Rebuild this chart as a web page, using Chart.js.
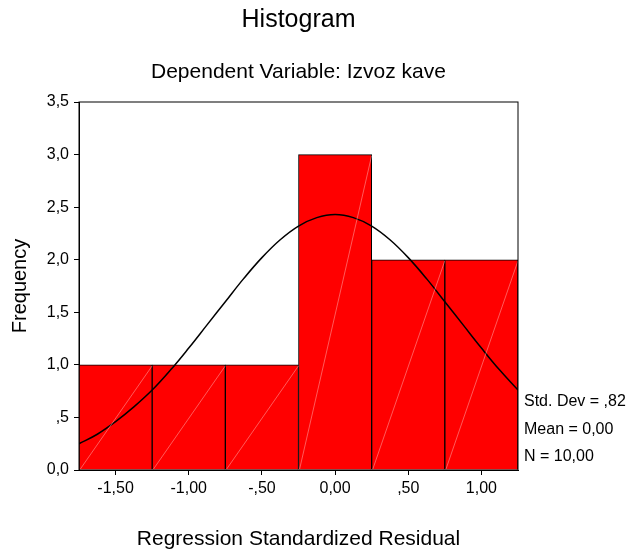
<!DOCTYPE html>
<html>
<head>
<meta charset="utf-8">
<script src="https://cdn.jsdelivr.net/npm/chart.js@4/dist/chart.umd.min.js"></script>
<style>
  body { margin: 0; background: #fff; }
  #wrap { width: 632px; height: 554px; }
</style>
</head>
<body>
<div id="wrap"><canvas id="hist" width="632" height="554"></canvas></div>
<script>
// bins (centres) and counts
const binCentres = [-1.5, -1.0, -0.5, 0.0, 0.5, 1.0];
const binCounts = [1, 1, 1, 3, 2, 2];

// normal curve
const curveX = [-1.75, -1.625, -1.5, -1.375, -1.25, -1.125, -1.0, -0.875, -0.75, -0.625, -0.5, -0.375, -0.25, -0.125,
  0, 0.125, 0.25, 0.375, 0.5, 0.625, 0.75, 0.875, 1.0, 1.125, 1.25];
const curveY = [0.25, 0.34, 0.46, 0.6, 0.76, 0.95, 1.16, 1.38, 1.6, 1.82, 2.02, 2.19, 2.32, 2.4,
  2.43, 2.4, 2.32, 2.19, 2.02, 1.82, 1.6, 1.38, 1.16, 0.95, 0.76];

const xTicks = [-1.5, -1.0, -0.5, 0.0, 0.5, 1.0];
const xTickLabels = ["-1,50", "-1,00", "-,50", "0,00", ",50", "1,00"];
const yTicks = [0, 0.5, 1, 1.5, 2, 2.5, 3, 3.5];
const yTickLabels = ["0,0", ",5", "1,0", "1,5", "2,0", "2,5", "3,0", "3,5"];

const statsLines = ["Std. Dev = ,82", "Mean = 0,00", "N = 10,00"];
const FONT = "'Liberation Sans', Arial, sans-serif";

const ctx = document.getElementById("hist").getContext("2d");

const textPlugin = {
  id: "texts",
  afterDatasetsDraw(chart) {
    const c = chart.ctx;
    // faint diagonal on each bar
    const bars = chart.getDatasetMeta(1).data;
    c.save();
    c.strokeStyle = "rgba(255,190,190,0.8)";
    c.lineWidth = 0.6;
    bars.forEach((b) => {
      const p = b.getProps(["x", "y", "base", "width"], true);
      c.beginPath();
      c.moveTo(p.x - p.width / 2 + 1, p.base);
      c.lineTo(p.x + p.width / 2, p.y + 1);
      c.stroke();
    });
    c.restore();
  },
  afterDraw(chart) {
    const c = chart.ctx;
    const a = chart.chartArea;
    const cx = (a.left + a.right) / 2;
    c.save();
    c.strokeStyle = "#000";
    c.lineWidth = 1;
    c.strokeRect(a.left, a.top, a.right - a.left, a.bottom - a.top);

    c.fillStyle = "#000";
    c.textAlign = "center";
    c.textBaseline = "middle";
    c.font = "25px " + FONT;
    c.fillText("Histogram", cx, 20);
    c.font = "21px " + FONT;
    c.fillText("Dependent Variable: Izvoz kave", cx, 72);
    c.font = "21px " + FONT;
    c.fillText("Regression Standardized Residual", cx, 539);

    c.save();
    c.translate(20, (a.top + a.bottom) / 2);
    c.rotate(-Math.PI / 2);
    c.font = "20px " + FONT;
    c.fillText("Frequency", 0, 0);
    c.restore();

    c.textAlign = "left";
    c.font = "16px " + FONT;
    statsLines.forEach((t, i) => c.fillText(t, 524, 402 + i * 27.5));
    c.restore();
  },
};

new Chart(ctx, {
  type: "bar",
  data: {
    datasets: [
      {
        type: "line",
        data: curveX.map((x, i) => ({ x: x, y: curveY[i] })),
        borderColor: "#000",
        borderWidth: 1.5,
        pointRadius: 0,
        tension: 0.4,
        fill: false,
        order: 0,
      },
      {
        type: "bar",
        data: binCentres.map((x, i) => ({ x: x, y: binCounts[i] })),
        backgroundColor: "#ff0000",
        borderColor: "#000",
        borderWidth: 1,
        barPercentage: 1,
        categoryPercentage: 1,
        order: 1,
      },
    ],
  },
  options: {
    responsive: false,
    animation: false,
    layout: { padding: { top: 102, right: 114, bottom: 0, left: 0 } },
    plugins: {
      legend: { display: false },
      tooltip: { enabled: false },
    },
    scales: {
      x: {
        type: "linear",
        min: -1.75,
        max: 1.25,
        offset: false,
        afterBuildTicks: (s) => { s.ticks = xTicks.map((v) => ({ value: v })); },
        afterFit: (s) => { s.height = 84; },
        grid: { drawOnChartArea: false, drawTicks: true, tickLength: 5, color: "#000", offset: false },
        border: { display: true, color: "#000" },
        ticks: {
          color: "#000",
          font: { family: FONT, size: 16 },
          padding: 4,
          maxRotation: 0,
          callback: (v) => xTickLabels[xTicks.indexOf(v)],
        },
      },
      y: {
        min: 0,
        max: 3.5,
        afterBuildTicks: (s) => { s.ticks = yTicks.map((v) => ({ value: v })); },
        afterFit: (s) => { s.width = 79; },
        grid: { drawOnChartArea: false, drawTicks: true, tickLength: 5, color: "#000" },
        border: { display: true, color: "#000" },
        ticks: {
          color: "#000",
          font: { family: FONT, size: 16 },
          padding: 5,
          callback: (v) => yTickLabels[yTicks.indexOf(v)],
        },
      },
    },
  },
  plugins: [textPlugin],
});
</script>
</body>
</html>
